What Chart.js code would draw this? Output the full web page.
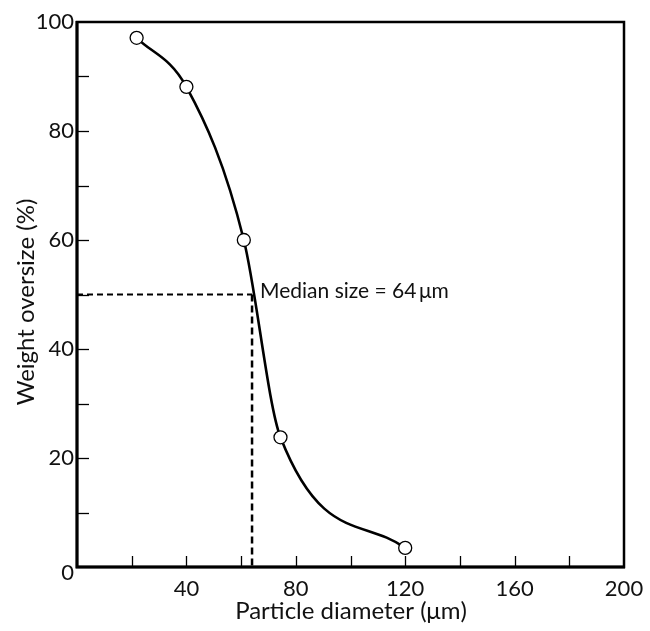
<!DOCTYPE html>
<html>
<head>
<meta charset="utf-8">
<script src="https://cdn.jsdelivr.net/npm/chart.js@4"></script>
<style>
    html, body { margin: 0; padding: 0; background: #fff; }
    #wrap { width: 650px; height: 631px; }
</style>
</head>
<body>
<div id="wrap"><canvas id="sizeChart" width="650" height="631"></canvas></div>
<script>
// particle size distribution, cumulative weight oversize
const diameters = [21.8, 40, 61, 74.4, 120];
const oversize = [97.1, 88.1, 60, 23.8, 3.5];
const medianSize = 64;
const medianLevel = 50;

const xTicks = [0, 20, 40, 60, 80, 100, 120, 140, 160, 180, 200];
const xLabels = [40, 80, 120, 160, 200];
const yTicks = [0, 10, 20, 30, 40, 50, 60, 70, 80, 90, 100];
const yLabels = [20, 40, 60, 80, 100];

const xTitle = 'Particle diameter (\u03bcm)';
const yTitle = 'Weight oversize (%)';
const medianText = 'Median size = ' + medianSize + '\u2009\u03bcm';

const font = 'Lato, "Open Sans", sans-serif';

const curvePoints = diameters.map((d, i) => ({ x: d, y: oversize[i] }));

// frame, inward ticks, labels and titles drawn from the chart's own scales
const framePlugin = {
    id: 'frame',
    afterDatasetsDraw(chart) {
        const { ctx, chartArea: a, scales: { x, y } } = chart;
        ctx.save();
        ctx.strokeStyle = '#000';
        ctx.lineCap = 'butt';

        ctx.lineWidth = 1.3;
        xTicks.forEach((v) => {
            if (v === 0 || v === 200) return;
            const px = Math.round(x.getPixelForValue(v)) + 0.5;
            ctx.beginPath();
            ctx.moveTo(px, a.bottom);
            ctx.lineTo(px, a.bottom - 11);
            ctx.stroke();
        });
        yTicks.forEach((v) => {
            if (v === 0 || v === 100) return;
            const py = Math.round(y.getPixelForValue(v)) + 0.5;
            ctx.beginPath();
            ctx.moveTo(a.left, py);
            ctx.lineTo(a.left + 12, py);
            ctx.stroke();
        });

        ctx.lineWidth = 2.5;
        ctx.strokeRect(a.left, a.top, a.right - a.left, a.bottom - a.top);
        ctx.lineWidth = 3;
        ctx.beginPath();
        ctx.moveTo(a.left, a.top - 1);
        ctx.lineTo(a.left, a.bottom);
        ctx.lineTo(a.right + 1, a.bottom);
        ctx.stroke();

        ctx.fillStyle = '#111';
        ctx.font = `22px ${font}`;
        ctx.textAlign = 'center';
        ctx.textBaseline = 'middle';
        xLabels.forEach((v) => {
            ctx.fillText(String(v), x.getPixelForValue(v), a.bottom + 22);
        });
        ctx.textAlign = 'right';
        yLabels.forEach((v) => {
            ctx.fillText(String(v), a.left - 3, y.getPixelForValue(v));
        });
        ctx.fillText('0', a.left - 3, a.bottom + 6);

        ctx.textAlign = 'center';
        ctx.font = `24px ${font}`;
        ctx.fillText(xTitle, 351, 611);
        ctx.save();
        ctx.translate(26, 302);
        ctx.rotate(-Math.PI / 2);
        ctx.fillText(yTitle, 0, 0);
        ctx.restore();

        ctx.font = `21px ${font}`;
        ctx.textAlign = 'left';
        const tx = x.getPixelForValue(medianSize) + 8;
        const ty = y.getPixelForValue(medianLevel) - 3;
        ctx.fillText(medianText, tx, ty);
        ctx.restore();
    },
};

new Chart(document.getElementById('sizeChart'), {
    type: 'line',
    data: {
        datasets: [
            {
                label: 'Median level',
                data: [{ x: 0, y: medianLevel }, { x: medianSize, y: medianLevel }],
                borderColor: '#000',
                borderWidth: 2,
                borderDash: [6, 4],
                pointRadius: 0,
                fill: false,
            },
            {
                label: 'Median size',
                data: [{ x: medianSize, y: medianLevel }, { x: medianSize, y: 0 }],
                borderColor: '#000',
                borderWidth: 2.5,
                borderDash: [7, 4],
                pointRadius: 0,
                fill: false,
            },
            {
                label: 'Weight oversize',
                data: curvePoints,
                borderColor: '#000',
                borderWidth: 2.6,
                cubicInterpolationMode: 'monotone',
                pointRadius: 6.5,
                pointBackgroundColor: '#fff',
                pointBorderColor: '#000',
                pointBorderWidth: 1.3,
                fill: false,
            },
        ],
    },
    options: {
        responsive: false,
        animation: false,
        layout: { padding: { left: 77, top: 22, right: 26, bottom: 64 } },
        scales: {
            x: { type: 'linear', min: 0, max: 200, display: false },
            y: { type: 'linear', min: 0, max: 100, display: false },
        },
        plugins: { legend: { display: false }, tooltip: { enabled: false } },
    },
    plugins: [framePlugin],
});
</script>
</body>
</html>
